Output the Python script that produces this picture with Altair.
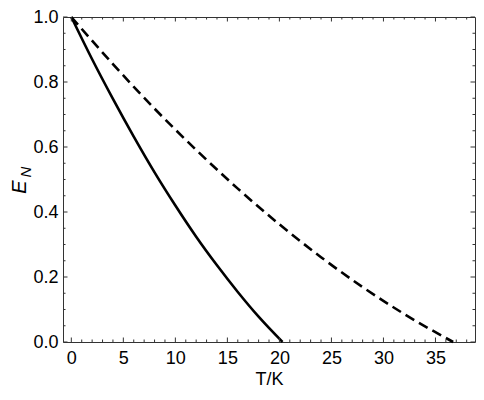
import altair as alt
import pandas as pd

solid_T = [0, 2, 4, 6, 8, 10, 12, 14, 16, 18, 20.3]
solid_E = [1.0, 0.870, 0.748, 0.632, 0.522, 0.420, 0.324, 0.236, 0.154, 0.078, 0.0]

dashed_T = [0, 4, 8, 12, 16, 20, 24, 28, 32, 36.7]
dashed_E = [1.0, 0.855, 0.718, 0.591, 0.472, 0.362, 0.261, 0.169, 0.086, 0.0]

x_major = [0, 5, 10, 15, 20, 25, 30, 35]
x_minor = [i for i in range(0, 39) if i % 5 != 0]
y_major = [0.0, 0.2, 0.4, 0.6, 0.8, 1.0]
y_minor = [0.05, 0.1, 0.15, 0.25, 0.3, 0.35, 0.45, 0.5, 0.55, 0.65, 0.7, 0.75, 0.85, 0.9, 0.95]

W, H = 412, 325
TOP = 9
XDOM = [-0.8, 38.8]
TICK = "#333333"

xs = alt.Scale(domain=XDOM, nice=False, zero=False)
ys = alt.Scale(domain=[0, 1], nice=False)

solid_df = pd.DataFrame({"T": solid_T, "E": solid_E})
dashed_df = pd.DataFrame({"T": dashed_T, "E": dashed_E})

base_x = alt.X("T:Q", scale=xs,
               axis=alt.Axis(values=x_major, ticks=False, domain=False, grid=False,
                             labelFontSize=18, labelFont="Liberation Sans", labelColor="black",
                             labelPadding=7, tickSize=0,
                             title="T/K", titleFontSize=18, titleFont="Liberation Sans",
                             titleFontWeight="normal", titleColor="black", titlePadding=3))
base_y = alt.Y("E:Q", scale=ys,
               axis=alt.Axis(values=y_major, format=".1f", ticks=False, domain=False, grid=False,
                             labelFontSize=18, labelFont="Liberation Sans", labelColor="black",
                             labelPadding=5, tickSize=0, title=None))

solid = alt.Chart(solid_df).mark_line(color="black", strokeWidth=2.6, interpolate="monotone").encode(
    x=base_x, y=base_y)
dashed = alt.Chart(dashed_df).mark_line(color="black", strokeWidth=2.6, strokeDash=[10, 5.5],
                                        interpolate="monotone").encode(
    x=alt.X("T:Q", scale=xs), y=alt.Y("E:Q", scale=ys))

def xticks(vals, length):
    df = pd.DataFrame({"v": vals})
    bot = alt.Chart(df).mark_rule(color=TICK, strokeWidth=1).encode(
        x=alt.X("v:Q", scale=xs), y=alt.value(H), y2=alt.value(H - length))
    top = alt.Chart(df).mark_rule(color=TICK, strokeWidth=1).encode(
        x=alt.X("v:Q", scale=xs), y=alt.value(0), y2=alt.value(length))
    return bot + top

def yticks(vals, length):
    df = pd.DataFrame({"v": vals})
    left = alt.Chart(df).mark_rule(color=TICK, strokeWidth=1).encode(
        y=alt.Y("v:Q", scale=ys), x=alt.value(0), x2=alt.value(length))
    right = alt.Chart(df).mark_rule(color=TICK, strokeWidth=1).encode(
        y=alt.Y("v:Q", scale=ys), x=alt.value(W), x2=alt.value(W - length))
    return left + right

ticks = xticks(x_major, 4.5) + xticks(x_minor, 2.5) + yticks(y_major, 4.5) + yticks(y_minor, 2.5)

title_df = pd.DataFrame({"main": ["E"], "sub": ["N"]})
t_main = alt.Chart(title_df).mark_text(angle=270, fontSize=20, fontStyle="italic",
                                       font="Liberation Sans", align="center", baseline="middle",
                                       color="black").encode(
    text="main:N", x=alt.value(-43), y=alt.value(187 - 8 - TOP))
t_sub = alt.Chart(title_df).mark_text(angle=270, fontSize=15, fontStyle="italic",
                                      font="Liberation Sans", align="center", baseline="middle",
                                      color="black").encode(
    text="sub:N", x=alt.value(-37), y=alt.value(172 - 8 - TOP))

chart = alt.layer(solid, dashed, ticks, t_main, t_sub).properties(
    width=W, height=H,
    autosize=alt.AutoSizeParams(type="none"),
    padding={"left": 55, "top": TOP, "right": 1, "bottom": 50},
).configure_view(stroke=TICK, strokeWidth=1)

chart.save("out.html", embed_options={"renderer": "svg", "actions": False})
